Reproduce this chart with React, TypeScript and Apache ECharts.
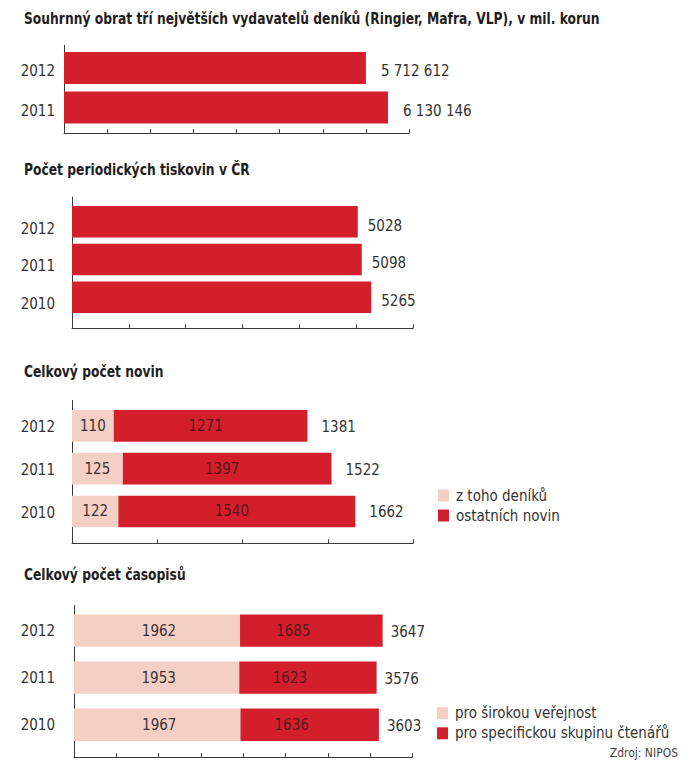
import React, { useEffect, useRef } from "react";
import * as echarts from "echarts";

const turnoverYears = ["2012", "2011"];
const turnover = [5712612, 6130146];

const periodicalYears = ["2012", "2011", "2010"];
const periodicals = [5028, 5098, 5265];

const newsYears = ["2012", "2011", "2010"];
const dailies = [110, 125, 122];
const otherNews = [1271, 1397, 1540];
const newsTotals = [1381, 1522, 1662];
// length of the light segment as it is drawn in the source (axis units)
const dailiesDrawnLength = [245, 298, 272];

const magYears = ["2012", "2011", "2010"];
const magGeneral = [1962, 1953, 1967];
const magSpecific = [1685, 1623, 1636];
const magTotals = [3647, 3576, 3603];

const titles = [
  "Souhrnný obrat tří největších vydavatelů deníků (Ringier, Mafra, VLP), v mil. korun",
  "Počet periodických tiskovin v ČR",
  "Celkový počet novin",
  "Celkový počet časopisů",
];

const RED = "#d21f2b";
const LIGHT = "#f4d0c4";
const FONT = "'Liberation Sans Narrow', 'DejaVu Sans Condensed', 'Roboto Condensed', sans-serif";
const AXIS = "#3a3a3a";
const FS = 15;

const fmt = (n: number) => (n >= 10000 ? String(n).replace(/\B(?=(\d{3})+(?!\d))/g, " ") : String(n));

export default function App() {
  const ref = useRef<HTMLDivElement>(null);
  useEffect(() => {
    document.body.style.margin = "0";
    const chart = echarts.init(ref.current!, undefined, { renderer: "svg" });

    const grids = [
      { left: 64, top: 48.25, width: 345, height: 79 },
      { left: 72, top: 202.8, width: 341, height: 113.25 },
      { left: 72, top: 404.4, width: 341, height: 128.5 },
      { left: 74, top: 607, width: 338.5, height: 141.3 },
    ];
    const axisSpec = [
      { max: 6528000, interval: 816000, offset: 6, y1: 45, y2: 133.3, margin: 9 },
      { max: 6000, interval: 1000, offset: 12.3, y1: 196.7, y2: 328.3, margin: 17 },
      { max: 2000, interval: 500, offset: 10.4, y1: 400, y2: 543.3, margin: 17 },
      { max: 4000, interval: 500, offset: 9, y1: 605, y2: 757.3, margin: 19 },
    ];
    const titleY = [19, 169.5, 371.5, 575];
    const yData = [turnoverYears, periodicalYears, newsYears, magYears];
    const labelShift = [3, 7, 1.5, 0];

    const xAxis = axisSpec.map((a, i) => ({
      gridIndex: i,
      type: "value",
      min: 0,
      max: a.max,
      interval: a.interval,
      offset: a.offset,
      axisLine: { show: true, lineStyle: { color: AXIS, width: 1 } },
      axisTick: { show: true, inside: true, length: 4, lineStyle: { color: AXIS, width: 1 } },
      axisLabel: { show: false },
      splitLine: { show: false },
    }));
    const yAxis = yData.map((d, i) => ({
      gridIndex: i,
      type: "category",
      inverse: true,
      data: d,
      axisLine: { show: false },
      axisTick: { show: false },
      axisLabel: {
        margin: axisSpec[i].margin,
        fontSize: FS,
        color: "#333",
        fontFamily: FONT,
        ...(labelShift[i] > 0
          ? { verticalAlign: "top", lineHeight: labelShift[i] * 2 }
          : { verticalAlign: "middle" }),
      },
    }));

    const outLabel = (distance: number, offsetY: number, values: number[]) => ({
      show: true,
      position: "right",
      distance,
      offset: [0, offsetY],
      fontSize: FS,
      color: "#333",
      fontFamily: FONT,
      formatter: (p: any) => fmt(values[p.dataIndex]),
    });
    const inLabel = (values: number[], color: string, dx: number) => ({
      show: true,
      position: "inside",
      offset: [dx, 0],
      fontSize: FS,
      color,
      fontFamily: FONT,
      formatter: (p: any) => String(values[p.dataIndex]),
    });

    const series: any[] = [
      {
        name: "obrat",
        type: "bar",
        xAxisIndex: 0,
        yAxisIndex: 0,
        data: turnover,
        barWidth: 32,
        itemStyle: { color: RED },
        label: outLabel(15, 3, turnover),
      },
      {
        name: "tiskoviny",
        type: "bar",
        xAxisIndex: 1,
        yAxisIndex: 1,
        data: periodicals,
        barWidth: 31.5,
        itemStyle: { color: RED },
        label: outLabel(10, 4, periodicals),
      },
      {
        name: "z toho deníků",
        type: "bar",
        xAxisIndex: 2,
        yAxisIndex: 2,
        stack: "news",
        data: dailiesDrawnLength,
        barWidth: 31.7,
        barGap: "-100%",
        itemStyle: { color: LIGHT },
        label: inLabel(dailies, "#3a3232", 0),
      },
      {
        name: "ostatních novin",
        type: "bar",
        xAxisIndex: 2,
        yAxisIndex: 2,
        stack: "news",
        data: newsTotals.map((t, i) => t - dailiesDrawnLength[i]),
        barWidth: 31.7,
        barGap: "-100%",
        itemStyle: { color: RED },
        label: inLabel(otherNews, "rgba(50,20,20,0.8)", -5),
      },
      {
        name: "novinyCelkem",
        type: "bar",
        xAxisIndex: 2,
        yAxisIndex: 2,
        data: newsTotals,
        barWidth: 31.7,
        barGap: "-100%",
        z: 1,
        itemStyle: { color: "rgba(0,0,0,0)" },
        label: outLabel(14, 1, newsTotals),
      },
      {
        name: "pro širokou veřejnost",
        type: "bar",
        xAxisIndex: 3,
        yAxisIndex: 3,
        stack: "mag",
        data: magGeneral,
        barWidth: 32.3,
        barGap: "-100%",
        itemStyle: { color: LIGHT },
        label: inLabel(magGeneral, "#3a3232", 2),
      },
      {
        name: "pro specifickou skupinu čtenářů",
        type: "bar",
        xAxisIndex: 3,
        yAxisIndex: 3,
        stack: "mag",
        data: magSpecific,
        barWidth: 32.3,
        barGap: "-100%",
        itemStyle: { color: RED },
        label: inLabel(magSpecific, "rgba(50,20,20,0.8)", -18),
      },
      {
        name: "casopisyCelkem",
        type: "bar",
        xAxisIndex: 3,
        yAxisIndex: 3,
        data: magTotals,
        barWidth: 32.3,
        barGap: "-100%",
        z: 1,
        itemStyle: { color: "rgba(0,0,0,0)" },
        label: outLabel(8, 1, magTotals),
      },
    ];

    const legendBase = {
      orient: "vertical",
      icon: "rect",
      itemWidth: 11,
      itemHeight: 12,
      itemGap: 4,
      selectedMode: false,
      padding: 0,
      textStyle: { fontSize: FS, color: "#333", fontFamily: FONT, lineHeight: 16, padding: [0, 0, 0, 2] },
    };

    const graphic: any[] = [
      ...titles.map((t, i) => ({
        type: "text",
        x: 24,
        y: titleY[i],
        scaleX: 0.855,
        style: {
          text: t,
          fill: "#1e1e1e",
          font: `bold 16px ${FONT}`,
          verticalAlign: "middle",
        },
      })),
      ...axisSpec.map((a, i) => ({
        type: "line",
        shape: { x1: grids[i].left + 0.5, y1: a.y1, x2: grids[i].left + 0.5, y2: a.y2 },
        style: { stroke: AXIS, lineWidth: 1 },
        z: 0,
      })),
      {
        type: "text",
        x: 678,
        y: 752.5,
        style: {
          text: "Zdroj: NIPOS",
          fill: "#444",
          font: `12px ${FONT}`,
          align: "right",
          verticalAlign: "middle",
        },
      },
    ];

    chart.setOption({
      animation: false,
      backgroundColor: "#fff",
      grid: grids,
      xAxis,
      yAxis,
      series,
      legend: [
        { ...legendBase, left: 438, top: 487.5, data: ["z toho deníků", "ostatních novin"] },
        {
          ...legendBase,
          left: 437,
          top: 705.3,
          data: ["pro širokou veřejnost", "pro specifickou skupinu čtenářů"],
        },
      ],
      graphic,
    });
    return () => chart.dispose();
  }, []);
  return <div ref={ref} style={{ width: 688, height: 765 }} />;
}
